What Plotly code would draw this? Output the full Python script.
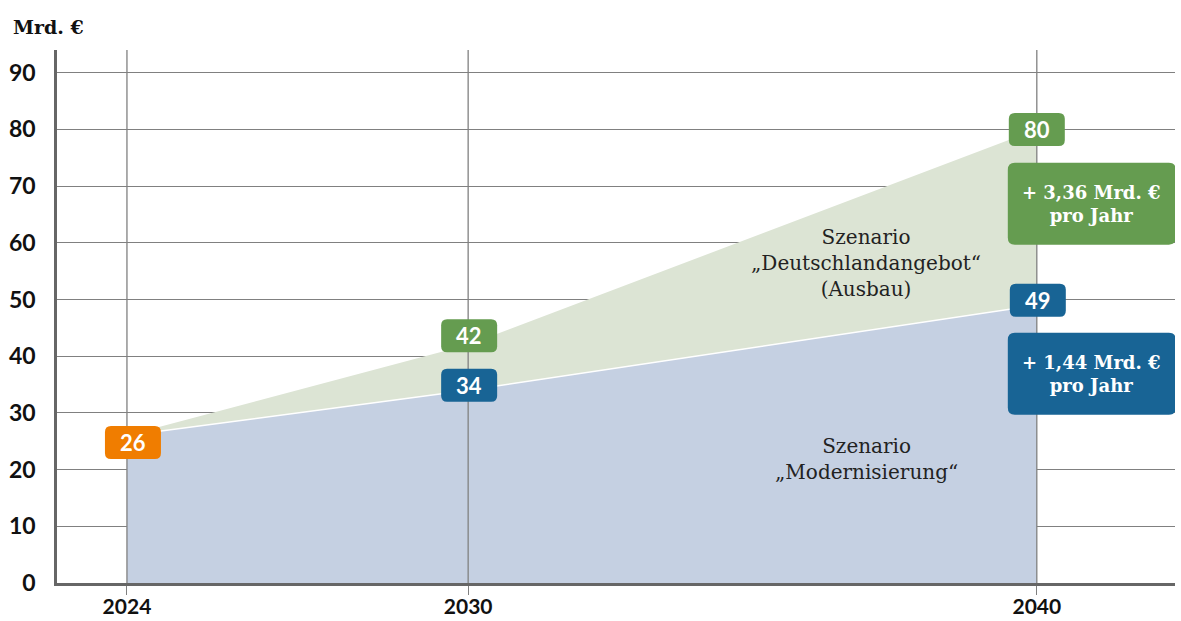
import plotly.graph_objects as go

# ---- data ----
years = [2024, 2030, 2040]
ausbau = [26, 42, 80]          # Szenario "Deutschlandangebot" (Ausbau)
modern = [26, 34, 49]          # Szenario "Modernisierung"
y_ticks = [0, 10, 20, 30, 40, 50, 60, 70, 80, 90]
x_tick_labels = ["2024", "2030", "2040"]
rate_ausbau = "+ 3,36 Mrd. €<br>pro Jahr"
rate_modern = "+ 1,44 Mrd. €<br>pro Jahr"

GREEN = "#659c50"
BLUE = "#186495"
ORANGE = "#f07d00"
GREEN_L = "#dce4d4"
BLUE_L = "#c5d0e2"
GRID = "#808080"
AX = "#666666"
SERIF = "DejaVu Serif"
SANS = "Lato"

fig = go.Figure()
fig.add_trace(go.Scatter(x=years, y=ausbau, fill="tozeroy", mode="lines",
                         line=dict(width=0, color=GREEN_L), fillcolor=GREEN_L,
                         hoverinfo="skip", showlegend=False))
fig.add_trace(go.Scatter(x=years, y=modern, fill="tozeroy", mode="lines",
                         line=dict(width=1.5, color="white"), fillcolor=BLUE_L,
                         hoverinfo="skip", showlegend=False))

shapes = []
# vertical lines above the areas
for yr in years:
    shapes.append(dict(type="line", xref="x", yref="paper", x0=yr, x1=yr, y0=0, y1=1,
                       line=dict(color=GRID, width=1.3), layer="above"))
# y axis extension below 0
shapes.append(dict(type="line", xref="paper", yref="y", ysizemode="pixel", yanchor=0,
                   x0=0, x1=0, y0=0, y1=-9, line=dict(color=AX, width=2.5), layer="above"))


def rrect(xa, ya, dx, dy, w, h, r, color):
    x0, x1 = dx - w / 2, dx + w / 2
    y0, y1 = dy - h / 2, dy + h / 2
    p = (f"M{x0+r},{y0} L{x1-r},{y0} Q{x1},{y0} {x1},{y0+r} L{x1},{y1-r} Q{x1},{y1} {x1-r},{y1} "
         f"L{x0+r},{y1} Q{x0},{y1} {x0},{y1-r} L{x0},{y0+r} Q{x0},{y0} {x0+r},{y0} Z")
    return dict(type="path", xref="x", yref="y", xsizemode="pixel", ysizemode="pixel",
                xanchor=xa, yanchor=ya, path=p, fillcolor=color, line=dict(width=0),
                layer="above")


annotations = []


def value_box(xv, yv, text, color, dx, dy):
    shapes.append(rrect(xv, yv, dx, dy, 56, 33, 6, color))
    annotations.append(dict(x=xv, y=yv, xref="x", yref="y", text=text, showarrow=False,
                            xshift=dx, yshift=dy,
                            font=dict(family=SANS, size=22, color="white", weight=700)))


value_box(years[0], modern[0], str(modern[0]), ORANGE, 6, -7)
value_box(years[1], ausbau[1], str(ausbau[1]), GREEN, 1, 9)
value_box(years[1], modern[1], str(modern[1]), BLUE, 1, 5)
value_box(years[2], ausbau[2], str(ausbau[2]), GREEN, 0, 0)
value_box(years[2], modern[2], str(modern[2]), BLUE, 1, 5)


def rate_box(yv, text, color):
    shapes.append(rrect(years[2], yv, 55, 0, 168, 82, 7, color))
    annotations.append(dict(x=years[2], y=yv, xref="x", yref="y", text=text, showarrow=False,
                            xshift=55, align="center",
                            font=dict(family=SERIF, size=18, color="white", weight=700)))


rate_box(66.9, rate_ausbau, GREEN)
rate_box(36.9, rate_modern, BLUE)

annotations.append(dict(x=2037, y=56.5, xref="x", yref="y", showarrow=False,
                        text="Szenario<br>„Deutschlandangebot“<br>(Ausbau)",
                        font=dict(family=SERIF, size=20, color="#222222"), align="center"))
annotations.append(dict(x=2037, y=21.8, xref="x", yref="y", showarrow=False,
                        text="Szenario<br>„Modernisierung“",
                        font=dict(family=SERIF, size=20, color="#222222"), align="center"))
annotations.append(dict(x=0, y=1, xref="paper", yref="paper", xanchor="left", yanchor="middle",
                        xshift=-46, yshift=23, showarrow=False, text="Mrd. €",
                        font=dict(family=SERIF, size=19, color="#111111", weight=700)))

fig.update_layout(
    width=1181, height=621,
    margin=dict(l=57, r=6, t=50, b=38, autoexpand=False),
    paper_bgcolor="white", plot_bgcolor="white",
    shapes=shapes, annotations=annotations,
    xaxis=dict(range=[2022.77, 2042.43], tickvals=years, ticktext=x_tick_labels,
               automargin=False,
               showgrid=False, zeroline=False, showline=True, linecolor=AX, linewidth=2.5,
               ticks="outside", ticklen=9, tickwidth=1.3, tickcolor=GRID,
               ticklabelstandoff=-6,
               tickfont=dict(family=SANS, size=21, color="#111111", weight=700)),
    yaxis=dict(range=[0, 94], tickvals=y_ticks, showgrid=True, gridcolor=GRID, gridwidth=1,
               automargin=False,
               zeroline=False, showline=True, linecolor=AX, linewidth=2.5, ticks="",
               ticklabelstandoff=14,
               tickfont=dict(family=SANS, size=23, color="#111111", weight=700)),
)

fig.write_html("out.html", config={"displayModeBar": False},
               post_script="document.body.style.margin='0px';document.body.style.overflow='hidden';")
